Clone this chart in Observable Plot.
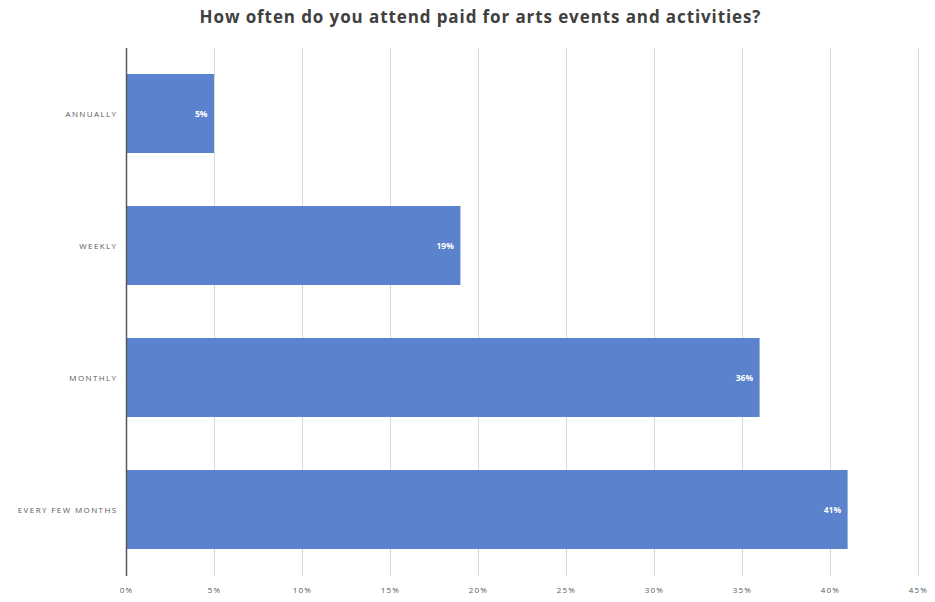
<!DOCTYPE html>
<html>
<head>
<meta charset="utf-8">
<script src="https://cdn.jsdelivr.net/npm/d3@7"></script>
<script src="https://cdn.jsdelivr.net/npm/@observablehq/plot@0.6"></script>
<style>
  body { margin: 0; background: #fff; width: 935px; height: 602px; overflow: hidden; }
  #title { height: 34px; line-height: 34px; text-align: center; padding-left: 26px; font-family: "Open Sans", sans-serif; font-weight: 700; font-size: 17px; letter-spacing: 0.9px; color: #404040; }
  svg { display: block; }
  .ylab text { letter-spacing: 1.4px; }
  .xlab text { letter-spacing: 1.2px; }
</style>
</head>
<body>
<div id="title">How often do you attend paid for arts events and activities?</div>
<div id="chart"></div>
<script>
const categories = ["ANNUALLY", "WEEKLY", "MONTHLY", "EVERY FEW MONTHS"];
const values = [5, 19, 36, 41];
const xTicks = [0, 5, 10, 15, 20, 25, 30, 35, 40, 45];

const data = categories.map((c, i) => ({category: c, value: values[i]}));

const chart = Plot.plot({
  width: 935,
  height: 568,
  marginLeft: 126,
  marginRight: 17,
  marginTop: 14,
  marginBottom: 26,
  style: {fontFamily: "'Open Sans', sans-serif", fontSize: "8px", color: "#595959", background: "#fff"},
  x: {domain: [0, 45], ticks: xTicks, tickFormat: d => d + "%", label: null},
  y: {domain: categories, paddingInner: 0.4, paddingOuter: 0.2, label: null},
  marks: [
    Plot.ruleX(xTicks.filter(d => d > 0), {stroke: "#d9d9d9", strokeWidth: 1}),
    Plot.barX(data, {x: "value", y: "category", fill: "#5B82CC"}),
    Plot.ruleX([0], {stroke: "#595959", strokeWidth: 1.5}),
    Plot.text(data, {x: "value", y: "category", text: d => d.value + "%", textAnchor: "end", dx: -7, fill: "#fff", fontWeight: 700, fontSize: 8.5}),
    Plot.axisX({ticks: xTicks, tickFormat: d => d + "%", tickSize: 0, tickPadding: 11, label: null, fill: "#595959", className: "xlab"}),
    Plot.axisY({tickSize: 0, tickPadding: 9, label: null, fill: "#595959", className: "ylab"})
  ]
});
document.getElementById("chart").appendChild(chart);
</script>
</body>
</html>
